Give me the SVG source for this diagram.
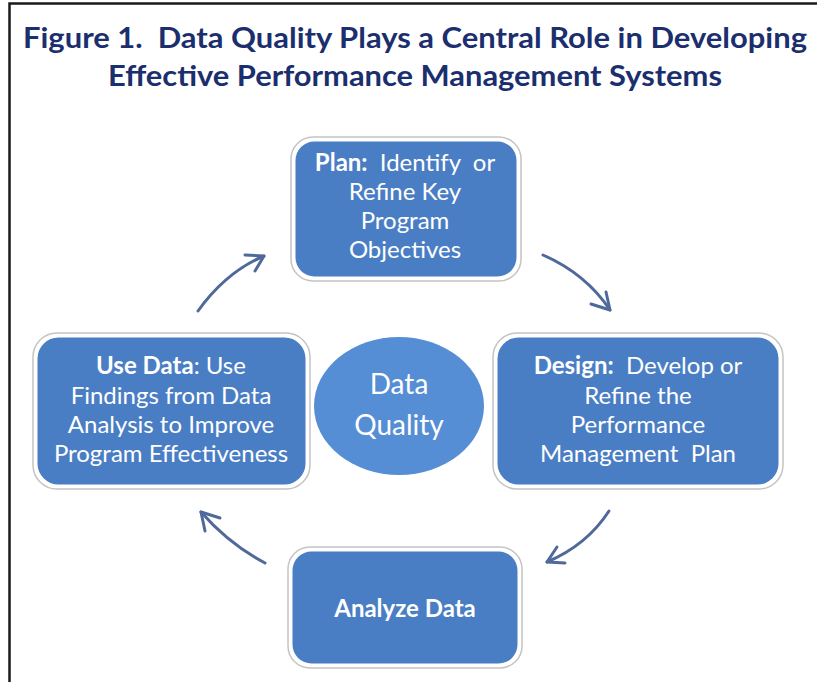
<svg xmlns="http://www.w3.org/2000/svg" width="817" height="682" viewBox="0 0 817 682">
<style>
text{white-space:pre}
.title{font-family:Lato,"Open Sans",sans-serif;font-weight:bold;font-size:29px;fill:#1b2f6e;text-anchor:middle}
.frame{fill:#ffffff;stroke:#c4c4c4;stroke-width:1.5}
.box{fill:#4a7ec4}
.t{font-family:Lato,"Open Sans",sans-serif;font-size:24px;fill:#ffffff;text-anchor:middle}
.b{font-weight:bold}
.arr{fill:none;stroke:#50699b;stroke-width:3;stroke-linecap:round;stroke-linejoin:round}
</style>
<rect width="817" height="682" fill="#ffffff"/>
<path d="M9.5 682 V3.5 H817" fill="none" stroke="#1a1a1a" stroke-width="2.5"/>
<g id="title">
<text class="title" x="415" y="48" textLength="784" lengthAdjust="spacingAndGlyphs">Figure 1.  Data Quality Plays a Central Role in Developing</text>
<text class="title" x="415" y="86" textLength="614" lengthAdjust="spacingAndGlyphs">Effective Performance Management Systems</text>
</g>
<g id="connectors">
<path class="arr" d="M198 311 Q226 272 264 256"/>
<path class="arr" d="M245 255 L264 256 L255 271"/>
<path class="arr" d="M543 255 Q586 274 610 310"/>
<path class="arr" d="M606 292 L610 310 L591 304"/>
<path class="arr" d="M609 511 Q587 545 547 562"/>
<path class="arr" d="M557 547 L547 562 L565 563"/>
<path class="arr" d="M265 563 Q229 544 201 512"/>
<path class="arr" d="M220 518 L201 512 L205 531"/>
</g>
<g id="plan">
<rect class="frame" x="291" y="137" width="230" height="144" rx="22"/>
<rect class="box" x="295.5" y="141.5" width="221" height="135" rx="19"/>
<text class="t" x="405" y="171"><tspan class="b">Plan:</tspan>  Identify  or</text>
<text class="t" x="405" y="200">Refine Key</text>
<text class="t" x="405" y="229">Program</text>
<text class="t" x="405" y="258">Objectives</text>
</g>
<g id="design">
<rect class="frame" x="493" y="333" width="290" height="156" rx="24"/>
<rect class="box" x="497.5" y="337.5" width="281" height="147" rx="21"/>
<text class="t" x="638" y="374"><tspan class="b">Design:</tspan>  Develop or</text>
<text class="t" x="638" y="404">Refine the</text>
<text class="t" x="638" y="433">Performance</text>
<text class="t" x="638" y="462">Management  Plan</text>
</g>
<g id="usedata">
<rect class="frame" x="33" y="333" width="277" height="156" rx="24"/>
<rect class="box" x="37.5" y="337.5" width="268" height="147" rx="21"/>
<text class="t" x="171" y="374"><tspan class="b">Use Data</tspan>: Use</text>
<text class="t" x="171" y="404">Findings from Data</text>
<text class="t" x="171" y="433">Analysis to Improve</text>
<text class="t" x="171" y="462">Program Effectiveness</text>
</g>
<g id="analyze">
<rect class="frame" x="288" y="547" width="234" height="121" rx="22"/>
<rect class="box" x="292.5" y="551.5" width="225" height="112" rx="19"/>
<text class="t b" x="405" y="617">Analyze Data</text>
</g>
<g id="dataquality">
<ellipse cx="399" cy="406" rx="85" ry="69" fill="#558ed5"/>
<text class="t" x="399" y="394" style="font-size:28px">Data</text>
<text class="t" x="399" y="435" style="font-size:28px">Quality</text>
</g>
</svg>
